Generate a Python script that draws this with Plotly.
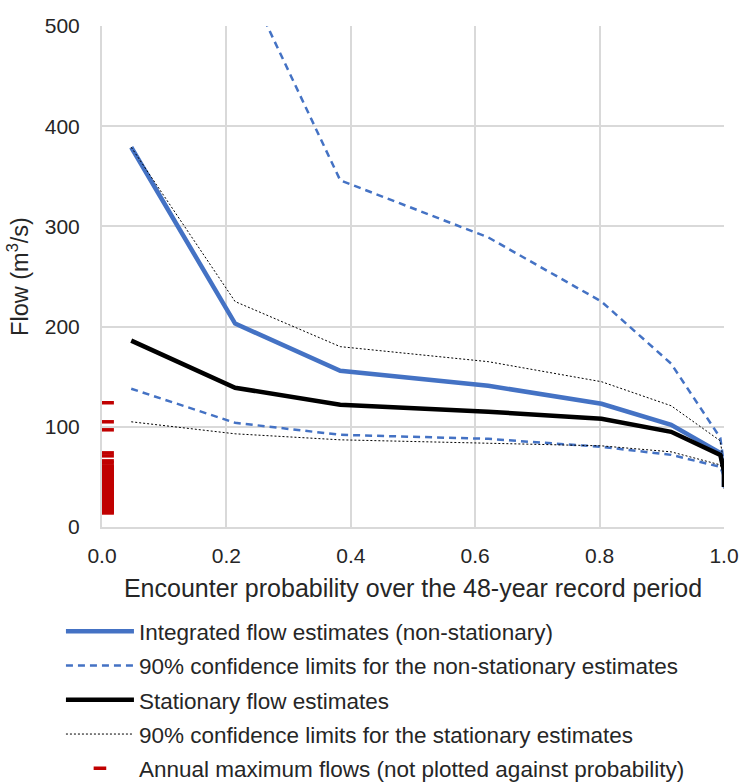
import plotly.graph_objects as go

# Encounter probability over 48-year record (return periods 1000,200,100,50,30,20,10,5,2 yr)
enc_prob = [0.047, 0.214, 0.383, 0.621, 0.803, 0.915, 0.994, 1.0, 1.0]

integrated = [379, 203, 156, 141, 123, 102, 74, 57, 40]
ns_upper = [1100, 568, 346, 289, 225, 163, 89, 62, 42]
ns_lower = [138, 104, 92, 88, 80, 72, 60, 50, 38]

stationary = [186, 139, 122, 115, 108, 95, 72, 56, 40]
st_upper = [379, 225, 180, 165, 145, 121, 86, 62, 45]
st_lower = [105, 93, 87, 84, 81, 75, 62, 52, 38]

annual_max = [124, 105, 97, 74, 71, 66, 64, 61, 60, 58, 57, 55, 54, 52, 51, 50,
              48, 47, 46, 45, 43, 42, 41, 40, 39, 38, 36, 35, 34, 33, 32, 30,
              29, 28, 27, 26, 25, 24, 23, 22, 21, 20, 19, 18, 17, 16, 15, 14]
annual_x = 0.009

x_ticks = [0.0, 0.2, 0.4, 0.6, 0.8, 1.0]
y_ticks = [0, 100, 200, 300, 400, 500]

BLUE = "#4472c4"
RED = "#c00000"
FONT = "Liberation Sans, Arial, sans-serif"
TXT = "#262626"

fig = go.Figure()

fig.add_trace(go.Scatter(x=enc_prob, y=integrated, mode="lines",
                         line=dict(color=BLUE, width=4.5),
                         name="Integrated flow estimates (non-stationary)",
                         legendgroup="a", legendrank=1))
fig.add_trace(go.Scatter(x=enc_prob, y=ns_upper, mode="lines",
                         line=dict(color=BLUE, width=2.5, dash="7px,5px"),
                         name="90% confidence limits for the non-stationary estimates",
                         legendgroup="b", legendrank=2))
fig.add_trace(go.Scatter(x=enc_prob, y=ns_lower, mode="lines",
                         line=dict(color=BLUE, width=2.5, dash="7px,5px"),
                         name="ns_lower", legendgroup="b", showlegend=False))
fig.add_trace(go.Scatter(x=enc_prob, y=stationary, mode="lines",
                         line=dict(color="black", width=4.5),
                         name="Stationary flow estimates",
                         legendgroup="c", legendrank=3))
fig.add_trace(go.Scatter(x=enc_prob, y=st_upper, mode="lines",
                         line=dict(color="black", width=1, dash="2px,2px"),
                         name="90% confidence limits for the stationary estimates",
                         legendgroup="d", legendrank=4))
fig.add_trace(go.Scatter(x=enc_prob, y=st_lower, mode="lines",
                         line=dict(color="black", width=1, dash="2px,2px"),
                         name="st_lower", legendgroup="d", showlegend=False))
fig.add_trace(go.Scatter(x=[annual_x] * len(annual_max), y=annual_max, mode="markers",
                         marker=dict(symbol="line-ew", size=9, color=RED,
                                     line=dict(color=RED, width=3.5)),
                         name="Annual maximum flows (not plotted against probability)",
                         legendgroup="e", legendrank=5, cliponaxis=False))

fig.update_layout(
    width=741, height=784,
    margin=dict(l=102, r=17, t=26, b=257, autoexpand=False),
    paper_bgcolor="white", plot_bgcolor="white",
    font=dict(family=FONT, size=20, color=TXT),
    showlegend=True,
    legend=dict(x=-0.066, xanchor="left", y=-0.166, yanchor="top",
                font=dict(size=22.5, color=TXT),
                itemwidth=68, tracegroupgap=2,
                bgcolor="rgba(0,0,0,0)"),
    xaxis=dict(range=[0, 1.0], tickvals=x_ticks, tickformat=".1f",
               automargin=False,
               showgrid=True, gridcolor="#d9d9d9", gridwidth=2,
               showline=True, linecolor="#d9d9d9", linewidth=2,
               zeroline=False,
               ticks="outside", ticklen=9, tickcolor="rgba(0,0,0,0)",
               tickfont=dict(size=21, color=TXT),
               title=dict(text="Encounter probability over the 48-year record period",
                          font=dict(size=25, color=TXT), standoff=13)),
    yaxis=dict(range=[0, 500], tickvals=y_ticks,
               automargin=False,
               showgrid=True, gridcolor="#d9d9d9", gridwidth=2,
               showline=True, linecolor="#d9d9d9", linewidth=2,
               zeroline=False,
               ticks="outside", ticklen=16, tickcolor="rgba(0,0,0,0)",
               tickfont=dict(size=21, color=TXT),
               title=dict(text="Flow (m<sup>3</sup>/s)",
                          font=dict(size=23.5, color=TXT), standoff=10)),
)

fig.write_html("out.html")
